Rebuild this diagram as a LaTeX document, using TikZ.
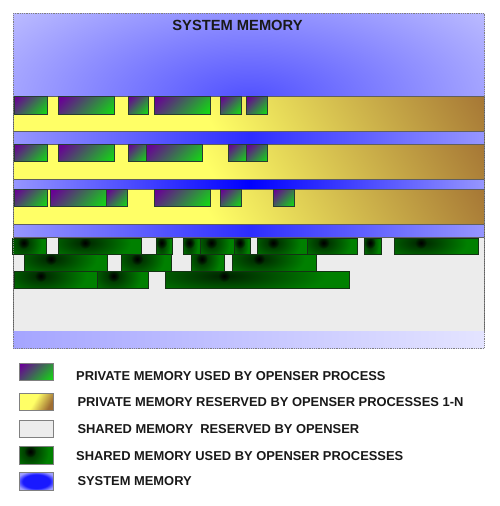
\documentclass[tikz,border=0pt]{standalone}
\usepackage{fontspec}
\setmainfont{Liberation Sans}
\usetikzlibrary{fadings}
\tikzfading[name=spotfade, inner color=transparent!0, outer color=transparent!100]
\definecolor{purp}{RGB}{105,0,150}
\definecolor{pgreen}{RGB}{20,215,20}
\definecolor{ylw}{RGB}{255,255,102}
\definecolor{brn}{RGB}{160,110,50}
\definecolor{dgreen}{RGB}{0,128,0}
\definecolor{spotmid}{RGB}{0,35,0}
\definecolor{shgrey}{RGB}{236,236,236}
\definecolor{toplight}{RGB}{222,222,255}
\definecolor{topdeep}{RGB}{80,80,255}
\definecolor{bedge}{RGB}{150,150,255}
\definecolor{bmid}{RGB}{45,45,255}
\definecolor{bmidb}{RGB}{0,0,255}
\definecolor{botl}{RGB}{165,165,255}
\definecolor{botr}{RGB}{228,228,255}
\definecolor{pbord}{RGB}{40,60,50}
\definecolor{gbord}{RGB}{20,50,20}
\definecolor{lineg}{RGB}{95,95,95}
\definecolor{swb}{RGB}{128,128,128}
\definecolor{swblue}{RGB}{25,25,255}
\definecolor{swbl}{RGB}{160,160,255}
\pgfdeclarehorizontalshading{ybshade}{100bp}{color(0bp)=(ylw); color(46bp)=(ylw); color(74bp)=(brn); color(100bp)=(brn)}
\pgfdeclarehorizontalshading{pgshade}{100bp}{color(0bp)=(purp); color(18bp)=(purp); color(82bp)=(pgreen); color(100bp)=(pgreen)}
\pgfdeclareradialshading{gspot}{\pgfpoint{0bp}{0bp}}{color(0bp)=(spotmid); color(25bp)=(dgreen); color(50bp)=(dgreen)}
\pgfdeclareradialshading{bspot}{\pgfpoint{0bp}{0bp}}{color(0bp)=(swblue); color(20bp)=(swblue); color(30bp)=(swbl); color(50bp)=(swbl)}
\tikzset{
  bandline/.style={draw=lineg, line width=0.7pt},
  pbox/.style={shading=pgshade, shading angle=-45, draw=pbord, line width=0.7pt},
  swatch/.style={draw=swb, line width=1pt},
  legtext/.style={anchor=west, inner sep=0pt, font=\fontsize{12.9}{15}\selectfont\bfseries, text=black!90}
}
\newcommand\pblk[4]{\shadedraw[pbox] (#1,#3) rectangle (#2,#4);}
\newcommand\gblk[4]{%
  \begin{scope}
    \clip (#1,#3) rectangle (#2,#4);
    \fill[dgreen] (#1,#3) rectangle (#2,#4);
    \shade[shading=gspot] ({#1+0.32*(#2-#1)},{#3+0.28*(#4-#3)}) ellipse ({0.55*(#2-#1)*1pt} and {1.2*(#4-#3)*1pt});
    \fill[black, path fading=spotfade] ({#1+0.32*(#2-#1)},{#3+0.28*(#4-#3)}) circle (6pt);
  \end{scope}
  \draw[draw=gbord, line width=0.7pt] (#1,#3) rectangle (#2,#4);}
\newcommand\yband[2]{%
  \begin{scope}
    \clip (13.3,#1) rectangle (484.3,#2);
    \shade[shading=ybshade, shading angle=30] (8.8,{(#1+#2)/2-240}) rectangle (488.8,{(#1+#2)/2+240});
  \end{scope}
  \draw[bandline] (13.3,#1) rectangle (484.3,#2);}
\begin{document}
\begin{tikzpicture}[x=1pt,y=-1pt]
\useasboundingbox (0,0) rectangle (500,506);
\fill[white] (0,0) rectangle (500,506);
% top system memory block
\fill[toplight] (13.3,13.3) rectangle (484.3,96.7);
\begin{scope}
  \clip (13.3,13.3) rectangle (484.3,96.7);
  \shade[inner color=topdeep, outer color=toplight] (248.8,100) ellipse (400pt and 185pt);
\end{scope}
% yellow bands
\yband{96.7}{131}
\yband{144.3}{179}
\yband{189.3}{224}
% blue strips
\shadedraw[left color=bedge, right color=bedge, middle color=bmid, draw=lineg, line width=0.7pt] (13.3,131) rectangle (484.3,144.3);
\shadedraw[left color=bedge, right color=bedge, middle color=bmidb, draw=lineg, line width=0.7pt] (13.3,179) rectangle (484.3,189.3);
\shadedraw[left color=bedge, right color=bedge, middle color=bmid, draw=lineg, line width=0.7pt] (13.3,224) rectangle (484.3,237.5);
% shared memory
\fill[shgrey] (13.3,237.5) rectangle (484.3,331.7);
\draw[bandline] (13.3,237.5) rectangle (484.3,331.7);
% bottom strip
\shade[left color=botl, right color=botr] (13.3,331.7) rectangle (484.3,348);
% private memory used (purple)
\pblk{14}{47.7}{96.7}{114}
\pblk{58.7}{114.7}{96.7}{114}
\pblk{128}{148.3}{96.7}{114}
\pblk{154}{210}{96.7}{114}
\pblk{220}{241}{96.7}{114}
\pblk{246.7}{267.7}{96.7}{114}
\pblk{14}{47.7}{144.3}{161.7}
\pblk{58.7}{114.7}{144.3}{161.7}
\pblk{128}{146.7}{144.3}{161.7}
\pblk{146.7}{202.7}{144.3}{161.7}
\pblk{228.3}{246.7}{144.3}{161.7}
\pblk{246.7}{267.7}{144.3}{161.7}
\pblk{14}{47.7}{189.3}{206.7}
\pblk{50.7}{106.7}{189.3}{206.7}
\pblk{106.7}{127.7}{189.3}{206.7}
\pblk{154}{210}{189.3}{206.7}
\pblk{220}{241}{189.3}{206.7}
\pblk{273.3}{294}{189.3}{206.7}
% shared memory used (green)
\gblk{12.7}{46.7}{238.3}{254.3}
\gblk{58.3}{141.7}{238.3}{254.3}
\gblk{156}{172.7}{238.3}{254.3}
\gblk{183.7}{200.3}{238.3}{254.3}
\gblk{200.3}{234.3}{238.3}{254.3}
\gblk{234.3}{250.7}{238.3}{254.3}
\gblk{257}{307.3}{238.3}{254.3}
\gblk{307.3}{357.7}{238.3}{254.3}
\gblk{364.3}{381.3}{238.3}{254.3}
\gblk{394}{478}{238.3}{254.3}
\gblk{24}{107.7}{254.3}{271}
\gblk{121}{171.3}{254.3}{271}
\gblk{191}{224.7}{254.3}{271}
\gblk{232}{316}{254.3}{271}
\gblk{14}{97.3}{271}{288.7}
\gblk{97.3}{148}{271}{288.7}
\gblk{165}{349.7}{271}{288.7}
% outer dotted frame
\draw[swb, densely dotted, line width=0.8pt] (13.3,13.3) rectangle (484.3,348);
\node[inner sep=0pt, font=\fontsize{14.7}{17}\selectfont\bfseries, text=black!90] (title) at (237.5,25) {SYSTEM MEMORY};
% legend
\shadedraw[shading=pgshade, shading angle=-45, swatch] (19.3,363.7) rectangle (53.3,380.7);
\shadedraw[shading=ybshade, shading angle=-30, swatch] (19.3,393.3) rectangle (53.3,410.7);
\filldraw[fill=shgrey, swatch] (19.3,420) rectangle (53.3,437.3);
\gblk{19.3}{53.3}{446.7}{464}
\draw[swatch] (19.3,446.7) rectangle (53.3,464);
\shadedraw[shading=bspot, swatch] (19.3,472.7) rectangle (53.3,490);
\node[legtext] (l1) at (76,376) {PRIVATE MEMORY USED BY OPENSER PROCESS};
\node[legtext] (l2) at (77.3,402) {PRIVATE MEMORY RESERVED BY OPENSER PROCESSES 1-N};
\node[legtext] (l3) at (77.3,429) {SHARED MEMORY\ \ RESERVED BY OPENSER};
\node[legtext] (l4) at (76,456) {SHARED MEMORY USED BY OPENSER PROCESSES};
\node[legtext] (l5) at (77.3,481) {SYSTEM MEMORY};
\end{tikzpicture}
\end{document}
